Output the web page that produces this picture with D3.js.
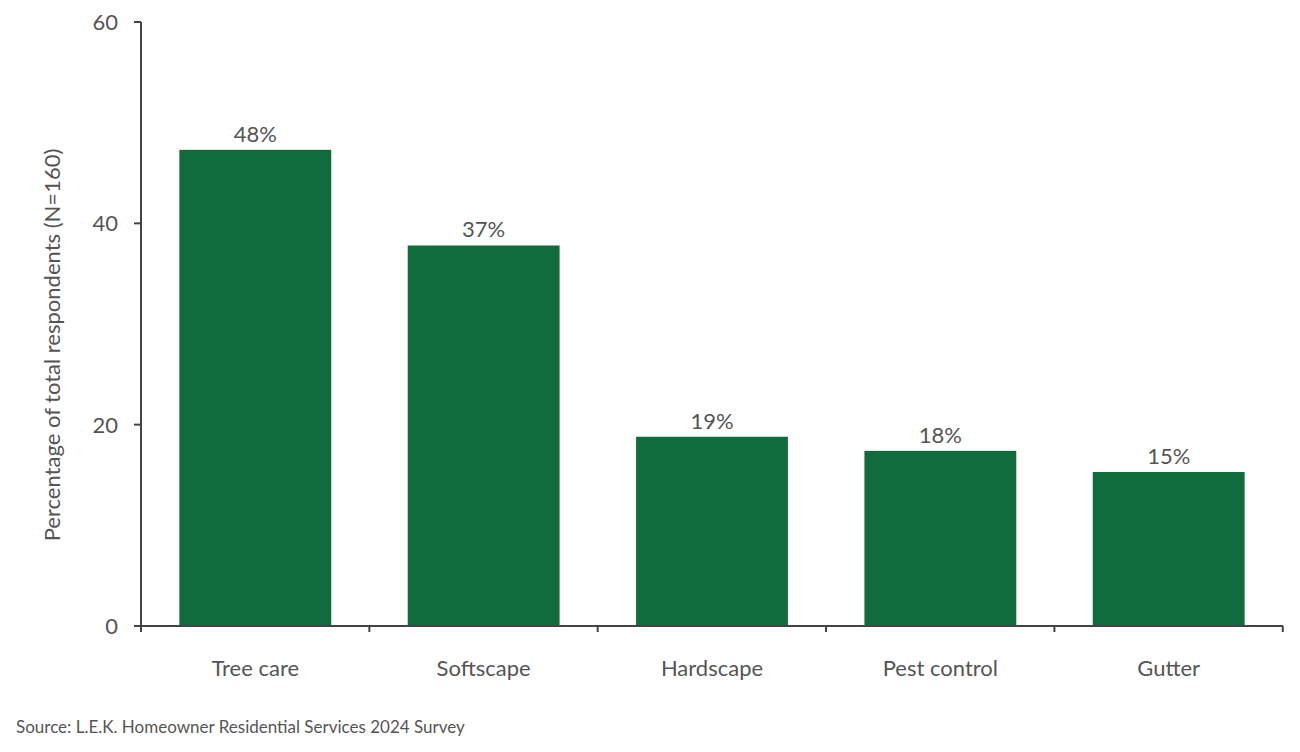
<!DOCTYPE html><html><head><meta charset="utf-8">
<script src="https://cdn.jsdelivr.net/npm/d3@7"></script>
<style>body{margin:0;background:#fff}text{font-family:Lato,"Open Sans",sans-serif;fill:#555}</style></head><body>
<svg id="c" width="1300" height="752"></svg>
<script>
const categories=["Tree care","Softscape","Hardscape","Pest control","Gutter"];
const values=[47.3,37.8,18.8,17.4,15.3];
const labels=["48%","37%","19%","18%","15%"];
const yTicks=[0,20,40,60];
const svg=d3.select("#c");
const x=d3.scaleBand().domain(categories).range([141,1283]).paddingInner(0.335).paddingOuter(0.168);
const y=d3.scaleLinear().domain([0,60]).range([626,22]);
svg.selectAll("rect").data(values).join("rect").attr("x",(d,i)=>x(categories[i])).attr("width",x.bandwidth())
 .attr("y",d=>y(d)).attr("height",d=>y(0)-y(d)).attr("fill","#106b3d");
svg.selectAll(".lab").data(values).join("text").attr("x",(d,i)=>x(categories[i])+x.bandwidth()/2).attr("y",d=>y(d)-8)
 .attr("text-anchor","middle").attr("font-size",22).text((d,i)=>labels[i]);
const ax="#444";
svg.append("line").attr("x1",141).attr("x2",141).attr("y1",22).attr("y2",626).attr("stroke",ax).attr("stroke-width",2);
svg.append("line").attr("x1",141).attr("x2",1283).attr("y1",626).attr("y2",626).attr("stroke",ax).attr("stroke-width",2);
yTicks.forEach(t=>{svg.append("line").attr("x1",134).attr("x2",141).attr("y1",y(t)).attr("y2",y(t)).attr("stroke",ax).attr("stroke-width",2);
 svg.append("text").attr("x",118).attr("y",y(t)+8).attr("text-anchor","end").attr("font-size",22).text(t);});
const step=x.step();
for(let i=0;i<=5;i++){const xx=141+i*step;svg.append("line").attr("x1",xx).attr("x2",xx).attr("y1",626).attr("y2",632).attr("stroke",ax).attr("stroke-width",2);}
categories.forEach(c=>svg.append("text").attr("x",x(c)+x.bandwidth()/2).attr("y",676).attr("text-anchor","middle").attr("font-size",22).text(c));
svg.append("text").attr("transform","translate(60,345) rotate(-90)").attr("text-anchor","middle").attr("font-size",22).text("Percentage of total respondents (N=160)");
svg.append("text").attr("x",16).attr("y",733).attr("font-size",17).text("Source: L.E.K. Homeowner Residential Services 2024 Survey");
</script></body></html>
